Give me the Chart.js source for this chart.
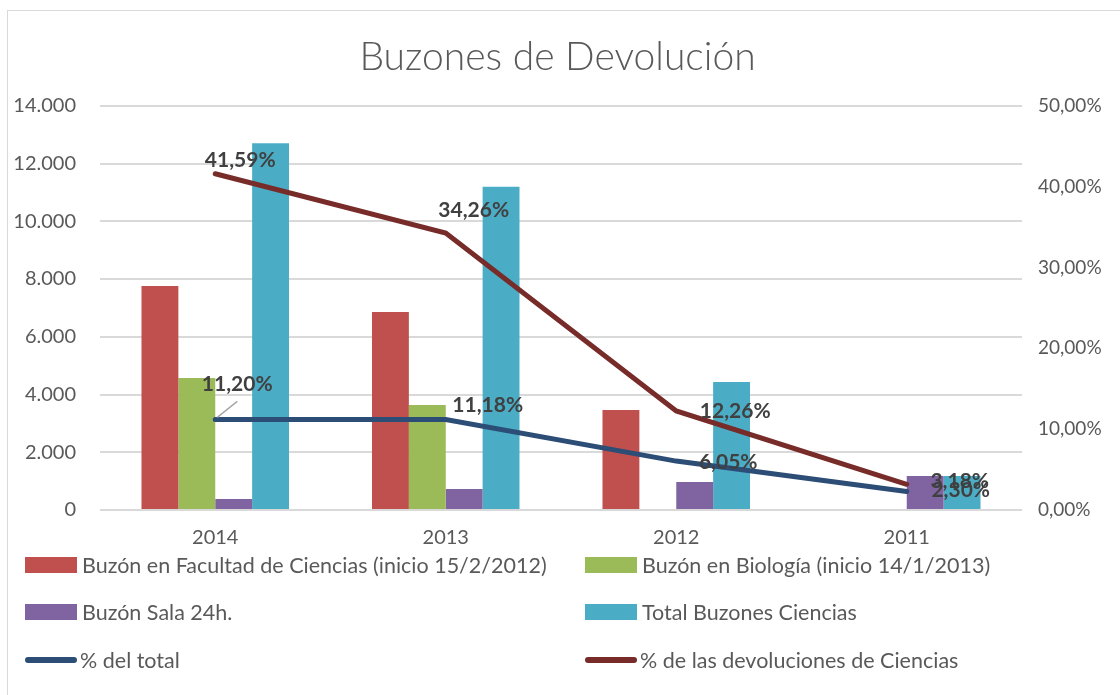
<!DOCTYPE html>
<html>
<head>
<meta charset="utf-8">
<script src="https://cdn.jsdelivr.net/npm/chart.js@4"></script>
<style>
  body { margin: 0; background: #fff; }
  #wrap { position: relative; width: 1120px; height: 695px; overflow: hidden; font-family: Lato, "Open Sans", sans-serif; }
  #frame { position: absolute; left: 7px; top: 10px; width: 1200px; height: 800px; border-left: 1px solid #d9d9d9; border-top: 1px solid #d9d9d9; }
  #chartBox { position: absolute; left: 0; top: 0; width: 1120px; height: 695px; }
  #legend { position: absolute; left: 0; top: 0; width: 1120px; height: 695px; pointer-events: none; }
  .item { position: absolute; display: flex; align-items: center; font-size: 21.5px; color: #595959; white-space: nowrap; }
  .swatch { width: 52px; height: 16px; margin-right: 5px; }
  .lineSwatch { width: 52px; height: 6px; border-radius: 3px; margin-right: 3px; }
</style>
</head>
<body>
<div id="wrap">
  <div id="frame"></div>
  <div id="chartBox"><canvas id="mixChart" width="1120" height="695"></canvas></div>
  <div id="legend"></div>
</div>
<script>
const years = ['2014', '2013', '2012', '2011'];

const facultad = [7760, 6860, 3460, 0];
const biologia = [4570, 3640, 0, 0];
const sala24 = [380, 730, 970, 1180];
const totalCiencias = [12700, 11200, 4430, 1180];

const pctTotal = [11.20, 11.18, 6.05, 2.30];
const pctCiencias = [41.59, 34.26, 12.26, 3.18];

const leftTicks = [0, 2000, 4000, 6000, 8000, 10000, 12000, 14000];
const rightTicks = [0, 10, 20, 30, 40, 50];

// label offsets for the percentage labels, relative to each point
const offTotal = [[22, -35], [42, -14], [52, 1], [54, -1]];
const offCiencias = [[25, -14], [28, -23], [59, 0], [53, -3]];

function fmtThousands(v) {
  return String(v).replace(/\B(?=(\d{3})+(?!\d))/g, '.');
}
function fmtPct(v) {
  return v.toFixed(2).replace('.', ',') + '%';
}

const ctx = document.getElementById('mixChart');

const pctLabels = {
  id: 'pctLabels',
  afterDatasetsDraw(chart) {
    const c = chart.ctx;
    c.save();
    c.font = 'bold 21px Lato, "Open Sans", sans-serif';
    c.fillStyle = '#404040';
    c.textAlign = 'center';
    c.textBaseline = 'middle';
    [[4, offTotal, pctTotal], [5, offCiencias, pctCiencias]].forEach(([idx, offs, vals]) => {
      const meta = chart.getDatasetMeta(idx);
      meta.data.forEach((pt, i) => {
        const x = pt.x + offs[i][0];
        const y = pt.y + offs[i][1];
        if (idx === 4 && i === 0) {
          // leader line
          c.beginPath();
          c.strokeStyle = '#a6a6a6';
          c.lineWidth = 1.5;
          c.moveTo(pt.x + 2, pt.y - 2);
          c.lineTo(pt.x + 22, pt.y - 18);
          c.stroke();
        }
        c.fillText(fmtPct(vals[i]), x, y);
      });
    });
    c.restore();
  }
};

const chart1 = new Chart(ctx, {
  type: 'bar',
  data: {
    labels: years,
    datasets: [
      { label: 'Buzón en Facultad de Ciencias (inicio 15/2/2012)', data: facultad, backgroundColor: '#c0504d', yAxisID: 'y', order: 2 },
      { label: 'Buzón en Biología (inicio 14/1/2013)', data: biologia, backgroundColor: '#9bbb59', yAxisID: 'y', order: 2 },
      { label: 'Buzón Sala 24h.', data: sala24, backgroundColor: '#8064a2', yAxisID: 'y', order: 2 },
      { label: 'Total Buzones Ciencias', data: totalCiencias, backgroundColor: '#4bacc6', yAxisID: 'y', order: 2 },
      { type: 'line', label: '% del total', data: pctTotal, borderColor: '#2c4d75', backgroundColor: '#2c4d75', borderWidth: 5, pointRadius: 0, tension: 0, yAxisID: 'y1', order: 1, borderCapStyle: 'round' },
      { type: 'line', label: '% de las devoluciones de Ciencias', data: pctCiencias, borderColor: '#772c2a', backgroundColor: '#772c2a', borderWidth: 5, pointRadius: 0, tension: 0, yAxisID: 'y1', order: 0, borderCapStyle: 'round' }
    ]
  },
  options: {
    responsive: false,
    animation: false,
    layout: { padding: { top: 20, left: 10, right: 15, bottom: 145 } },
    datasets: { bar: { barPercentage: 1, categoryPercentage: 0.64 } },
    plugins: {
      legend: { display: false },
      tooltip: { enabled: false },
      title: {
        display: true,
        text: 'Buzones de Devolución',
        color: '#595959',
        font: { family: 'Lato, "Open Sans", sans-serif', size: 39, weight: '300' },
        padding: { top: 14, bottom: 25 }
      }
    },
    scales: {
      x: {
        grid: { display: false },
        border: { display: false },
        ticks: { color: '#595959', font: { family: 'Lato, "Open Sans", sans-serif', size: 20 }, padding: 8 },
        afterFit(s) { s.height = 40; }
      },
      y: {
        position: 'left',
        min: 0, max: 14000,
        afterBuildTicks(s) { s.ticks = leftTicks.map(v => ({ value: v })); },
        grid: { color: '#d9d9d9', lineWidth: 2, drawTicks: false },
        border: { display: false },
        ticks: { color: '#595959', font: { family: 'Lato, "Open Sans", sans-serif', size: 20 }, padding: 24, callback: v => fmtThousands(v) },
        afterFit(s) { s.width = 90; }
      },
      y1: {
        position: 'right',
        min: 0, max: 50,
        afterBuildTicks(s) { s.ticks = rightTicks.map(v => ({ value: v })); },
        grid: { display: false },
        border: { display: false },
        ticks: { color: '#595959', font: { family: 'Lato, "Open Sans", sans-serif', size: 19 }, padding: 8, callback: v => fmtPct(v) },
        afterFit(s) { s.width = 83; }
      }
    }
  },
  plugins: [pctLabels]
});

// legend in two columns, built from the datasets
const legendPos = [[25, 565], [585, 565], [25, 612], [585, 612], [25, 660], [585, 660]];
const legendEl = document.getElementById('legend');
chart1.data.datasets.forEach((ds, i) => {
  const item = document.createElement('div');
  item.className = 'item';
  item.style.left = legendPos[i][0] + 'px';
  item.style.top = (legendPos[i][1] - 13) + 'px';
  item.style.height = '26px';
  const sw = document.createElement('span');
  sw.className = ds.type === 'line' ? 'lineSwatch' : 'swatch';
  sw.style.background = ds.type === 'line' ? ds.borderColor : ds.backgroundColor;
  const tx = document.createElement('span');
  tx.textContent = ds.label;
  item.appendChild(sw);
  item.appendChild(tx);
  legendEl.appendChild(item);
});
</script>
</body>
</html>
